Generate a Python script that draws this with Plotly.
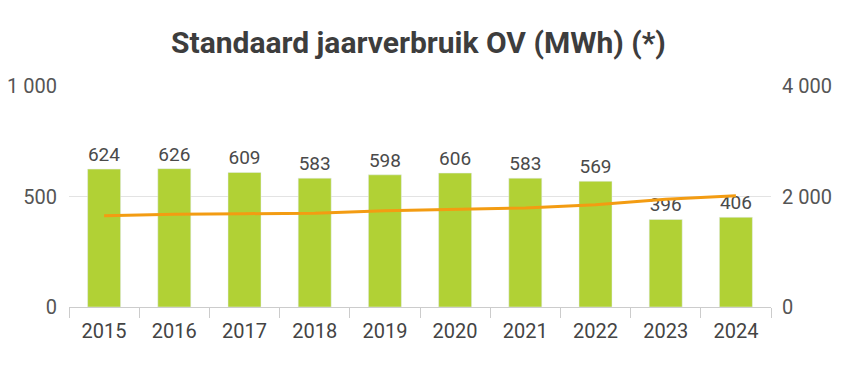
import plotly.graph_objects as go

years = ["2015", "2016", "2017", "2018", "2019", "2020", "2021", "2022", "2023", "2024"]
verbruik = [624, 626, 609, 583, 598, 606, 583, 569, 396, 406]
lijn = [1653, 1678, 1689, 1696, 1743, 1765, 1792, 1851, 1949, 2014]

left_ticks = [0, 500, 1000]
left_text = ["0", "500", "1 000"]
right_ticks = [0, 2000, 4000]
right_text = ["0", "2 000", "4 000"]

fig = go.Figure()
fig.add_trace(go.Bar(
    x=years, y=verbruik, text=[str(v) for v in verbruik], textposition="outside",
    textfont=dict(size=19, color="#4a4a4a", family="Roboto"),
    marker=dict(color="#b1d135"), width=0.47, cliponaxis=False, yaxis="y",
))
fig.add_trace(go.Scatter(
    x=years, y=lijn, mode="lines", line=dict(color="#f39c12", width=3),
    yaxis="y2",
))

fig.update_layout(
    width=861, height=366,
    margin=dict(l=69, r=90, t=86, b=59),
    paper_bgcolor="white", plot_bgcolor="white",
    showlegend=False,
    font=dict(family="Roboto", color="#555555", size=16),
    title=dict(text="<b>Standaard jaarverbruik OV (MWh) (*)</b>", x=0.486, xanchor="center",
               y=0.885, yanchor="middle", font=dict(size=30, color="#3d3d3d", family="Roboto")),
    xaxis=dict(showgrid=False, showline=True, linecolor="#cccccc", linewidth=1,
               ticks="outside", tickson="boundaries", ticklen=10, tickcolor="#cccccc",
               tickfont=dict(size=20, color="#444444"), ticklabelstandoff=6,
               automargin=False),
    yaxis=dict(range=[0, 1000], tickvals=left_ticks, ticktext=left_text,
               showgrid=True, gridcolor="#e3e3e3", zeroline=False,
               tickfont=dict(size=20, color="#555555"), ticklabelstandoff=11,
               automargin=False),
    yaxis2=dict(range=[0, 4000], tickvals=right_ticks, ticktext=right_text,
                overlaying="y", side="right", showgrid=False, zeroline=False,
                tickfont=dict(size=20, color="#555555"), ticklabelstandoff=10,
                automargin=False),
    bargap=0.5,
)

fig.write_html("out.html", post_script="document.body.style.margin='0';",
               config={"displayModeBar": False})
